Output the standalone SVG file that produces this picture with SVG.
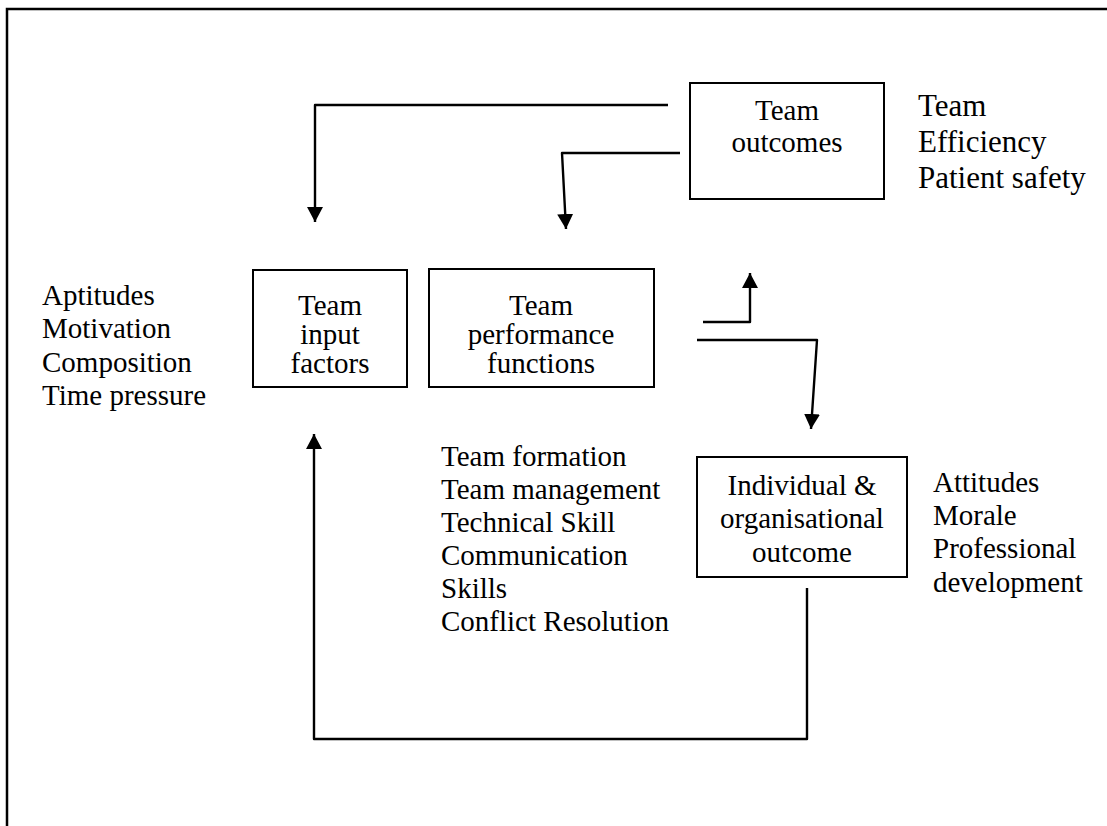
<svg xmlns="http://www.w3.org/2000/svg" width="1107" height="826" viewBox="0 0 1107 826">
<style>
  .box { fill: #fff; stroke: #000; stroke-width: 2; }
  .t { font-family: 'Liberation Serif', 'Times New Roman', 'DejaVu Serif', serif; font-size: 29px; fill: #000; }
  .big { font-size: 31px; }
  .c { text-anchor: middle; }
  .ln { fill: none; stroke: #000; stroke-width: 2.4; stroke-linejoin: round; }
</style>
<defs>
  <marker id="ah" markerUnits="userSpaceOnUse" markerWidth="16" markerHeight="16" viewBox="0 0 16 16" refX="15" refY="8" orient="auto">
    <path d="M0,0 L15,8 L0,16 z" fill="#000"/>
  </marker>
</defs>
<rect width="1107" height="826" fill="#fff"/>
<g id="frame">
  <path d="M7,826 V9 H1107" fill="none" stroke="#000" stroke-width="2.5"/>
</g>
<g id="connectors">
  <path class="ln" d="M668,105 H315 V222" marker-end="url(#ah)"/>
  <path class="ln" d="M680,153 H562 L566,229" marker-end="url(#ah)"/>
  <path class="ln" d="M703,322 H750 V273" marker-end="url(#ah)"/>
  <path class="ln" d="M697,340 H817 L811,429" marker-end="url(#ah)"/>
  <path class="ln" d="M807,588 V739 H314 V434" marker-end="url(#ah)"/>
</g>
<g id="team-outcomes">
  <rect class="box" x="690" y="83" width="194" height="116"/>
  <text class="t c" x="787" y="120">Team</text>
  <text class="t c" x="787" y="152">outcomes</text>
</g>
<g id="team-outcomes-list">
  <text class="t big" x="918" y="116">Team</text>
  <text class="t big" x="918" y="152">Efficiency</text>
  <text class="t big" x="918" y="188">Patient safety</text>
</g>
<g id="input-list">
  <text class="t" x="42" y="305">Aptitudes</text>
  <text class="t" x="42" y="338">Motivation</text>
  <text class="t" x="42" y="372">Composition</text>
  <text class="t" x="42" y="405">Time pressure</text>
</g>
<g id="team-input">
  <rect class="box" x="253" y="270" width="154" height="117"/>
  <text class="t c" x="330" y="315">Team</text>
  <text class="t c" x="330" y="344">input</text>
  <text class="t c" x="330" y="373">factors</text>
</g>
<g id="team-performance">
  <rect class="box" x="429" y="269" width="225" height="118"/>
  <text class="t c" x="541" y="315">Team</text>
  <text class="t c" x="541" y="344">performance</text>
  <text class="t c" x="541" y="373">functions</text>
</g>
<g id="performance-list">
  <text class="t" x="441" y="466">Team formation</text>
  <text class="t" x="441" y="499">Team management</text>
  <text class="t" x="441" y="532">Technical Skill</text>
  <text class="t" x="441" y="565">Communication</text>
  <text class="t" x="441" y="598">Skills</text>
  <text class="t" x="441" y="631">Conflict Resolution</text>
</g>
<g id="individual-outcome">
  <rect class="box" x="697" y="457" width="210" height="120"/>
  <text class="t c" x="802" y="495">Individual &amp;</text>
  <text class="t c" x="802" y="528">organisational</text>
  <text class="t c" x="802" y="562">outcome</text>
</g>
<g id="individual-list">
  <text class="t" x="933" y="492">Attitudes</text>
  <text class="t" x="933" y="525">Morale</text>
  <text class="t" x="933" y="558">Professional</text>
  <text class="t" x="933" y="592">development</text>
</g>
</svg>
